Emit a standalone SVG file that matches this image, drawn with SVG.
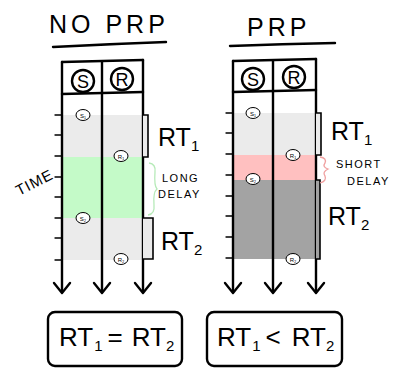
<svg xmlns="http://www.w3.org/2000/svg" width="393" height="368" viewBox="0 0 393 368">
  <style>
    .ln { stroke: #000; stroke-width: 2.4; fill: none; stroke-linecap: round; stroke-linejoin: round; }
    .thin { stroke: #000; stroke-width: 1.3; fill: none; stroke-linecap: round; }
    .hand { font-family: "Liberation Sans", "DejaVu Sans", sans-serif; fill: #000; }
    .big { font-size: 25px; }
    .small { font-size: 11px; letter-spacing: 1.5px; }
    .tag { font-size: 6px; }
    .res { font-size: 26px; }
  </style>
  <defs>
    <path id="head" d="M-8,-10 L0,0 L8,-10" />
  </defs>

  <!-- titles -->
  <g id="title-no-prp">
    <text class="hand big" x="49" y="33" letter-spacing="4">NO PRP</text>
    <path class="ln" d="M53,47 Q110,44 166,42" stroke-width="2" />
  </g>
  <g id="title-prp">
    <text class="hand big" x="247" y="36" letter-spacing="4">PRP</text>
    <path class="ln" d="M230,46 Q282,44 335,43" stroke-width="2" />
  </g>

  <!-- left timeline -->
  <g id="panel-no-prp">
    <rect x="62" y="115" width="81" height="42" fill="#ebebeb" />
    <rect x="62" y="157" width="81" height="61" fill="#c4fac8" />
    <rect x="62" y="218" width="81" height="42" fill="#ebebeb" />
    <path class="ln" d="M62,62 L143,60" />
    <path class="ln" d="M62,94 L143,92" />
    <circle cx="83" cy="81" r="11" class="ln" stroke-width="1.8" />
    <text class="hand" x="83" y="88" font-size="18" text-anchor="middle">S</text>
    <circle cx="122" cy="79" r="11" class="ln" stroke-width="1.8" />
    <text class="hand" x="122" y="86" font-size="18" text-anchor="middle">R</text>
    <g class="thin">
      <path d="M55,115 H62 M55,135 H62 M55,156 H62 M55,177 H62 M55,197 H62 M55,218 H62 M55,238 H62 M55,260 H62" />
    </g>
    <path class="ln" d="M62,62 V292" />
    <path class="ln" d="M102,62 V292" />
    <path class="ln" d="M143,60 V292" />
    <use href="#head" class="ln" x="62" y="293" />
    <use href="#head" class="ln" x="102" y="293" />
    <use href="#head" class="ln" x="143" y="293" />
    <!-- events -->
    <g>
      <ellipse cx="83" cy="115" rx="7" ry="5.5" fill="#fff" stroke="#000" stroke-width="1" />
      <text class="hand tag" x="83" y="117.5" text-anchor="middle">S₁</text>
      <ellipse cx="121" cy="156" rx="7" ry="5.5" fill="#fff" stroke="#000" stroke-width="1" />
      <text class="hand tag" x="121" y="158.5" text-anchor="middle">R₁</text>
      <ellipse cx="83" cy="218" rx="7" ry="5.5" fill="#fff" stroke="#000" stroke-width="1" />
      <text class="hand tag" x="83" y="220.5" text-anchor="middle">S₂</text>
      <ellipse cx="121" cy="259" rx="7" ry="5.5" fill="#fff" stroke="#000" stroke-width="1" />
      <text class="hand tag" x="121" y="261.5" text-anchor="middle">R₂</text>
    </g>
    <!-- brackets -->
    <path d="M143,115 H148 V157 H143" fill="#ebebeb" stroke="#000" stroke-width="1.6" />
    <path d="M143,218 H153 V259 H143" fill="#ebebeb" stroke="#000" stroke-width="1.6" />
    <text class="hand big" x="158" y="146">RT<tspan font-size="15" dy="5">1</tspan></text>
    <text class="hand big" x="161" y="250">RT<tspan font-size="15" dy="5">2</tspan></text>
    <path d="M149,163 Q156,164 155,172 Q154,186 157,189 Q153,192 154,205 Q155,214 148,215" fill="none" stroke="#b6eab8" stroke-width="1.3" />
    <text class="hand small" x="162" y="182">LONG</text>
    <text class="hand small" x="158" y="198">DELAY</text>
  </g>

  <!-- time axis label -->
  <g id="time-label">
    <text class="hand" font-size="15" transform="translate(19,196) rotate(-27)" letter-spacing="1">TIME</text>
  </g>

  <!-- right timeline -->
  <g id="panel-prp">
    <rect x="233" y="113" width="84" height="42" fill="#ebebeb" />
    <rect x="233" y="155" width="84" height="25" fill="#ffc0c0" />
    <rect x="233" y="180" width="84" height="79" fill="#a3a3a3" />
    <path class="ln" d="M233,61 L316,59" />
    <path class="ln" d="M233,92 L316,90" />
    <circle cx="253" cy="79" r="11" class="ln" stroke-width="1.8" />
    <text class="hand" x="253" y="86" font-size="18" text-anchor="middle">S</text>
    <circle cx="294" cy="77" r="11" class="ln" stroke-width="1.8" />
    <text class="hand" x="294" y="84" font-size="18" text-anchor="middle">R</text>
    <g class="thin">
      <path d="M226,113 H233 M226,133 H233 M226,154 H233 M226,175 H233 M226,196 H233 M226,216 H233 M226,237 H233 M226,258 H233" />
    </g>
    <path class="ln" d="M233,61 V292" />
    <path class="ln" d="M273,61 V292" />
    <path class="ln" d="M316,59 V292" />
    <use href="#head" class="ln" x="233" y="293" />
    <use href="#head" class="ln" x="273" y="293" />
    <use href="#head" class="ln" x="316" y="293" />
    <g>
      <ellipse cx="253" cy="113" rx="7" ry="5.5" fill="#fff" stroke="#000" stroke-width="1" />
      <text class="hand tag" x="253" y="115.5" text-anchor="middle">S₁</text>
      <ellipse cx="293" cy="155" rx="7" ry="5.5" fill="#fff" stroke="#000" stroke-width="1" />
      <text class="hand tag" x="293" y="157.5" text-anchor="middle">R₁</text>
      <ellipse cx="253" cy="179" rx="7" ry="5.5" fill="#fff" stroke="#000" stroke-width="1" />
      <text class="hand tag" x="253" y="181.5" text-anchor="middle">S₂</text>
      <ellipse cx="293" cy="259" rx="7" ry="5.5" fill="#fff" stroke="#000" stroke-width="1" />
      <text class="hand tag" x="293" y="261.5" text-anchor="middle">R₂</text>
    </g>
    <path d="M316,113 H321 V155 H316" fill="#ebebeb" stroke="#000" stroke-width="1.6" />
    <path d="M316,180 H320 V259 H316" fill="#a3a3a3" stroke="#000" stroke-width="1.6" />
    <text class="hand big" x="331" y="140">RT<tspan font-size="15" dy="5">1</tspan></text>
    <text class="hand big" x="328" y="225">RT<tspan font-size="15" dy="5">2</tspan></text>
    <path d="M320,157 Q327,158 325,163 Q322,167 328,169 Q322,172 325,176 Q327,181 320,183" fill="none" stroke="#f0a0a0" stroke-width="1.3" />
    <text class="hand small" x="336" y="168">SHORT</text>
    <text class="hand small" x="347" y="185">DELAY</text>
  </g>

  <!-- result boxes -->
  <g id="result-no-prp">
    <rect x="48" y="312" width="134" height="54" rx="7" class="ln" />
    <text class="hand res" x="59" y="346">RT<tspan font-size="15" dx="1" dy="5">1</tspan><tspan dx="5" dy="-5">=</tspan><tspan dx="9">RT</tspan><tspan font-size="15" dy="5">2</tspan></text>
  </g>
  <g id="result-prp">
    <rect x="207" y="312" width="135" height="54" rx="7" class="ln" />
    <text class="hand res" x="217" y="346">RT<tspan font-size="15" dx="1" dy="5">1</tspan><tspan dx="5" dy="-5">&lt;</tspan><tspan dx="11">RT</tspan><tspan font-size="15" dy="5">2</tspan></text>
  </g>
</svg>
